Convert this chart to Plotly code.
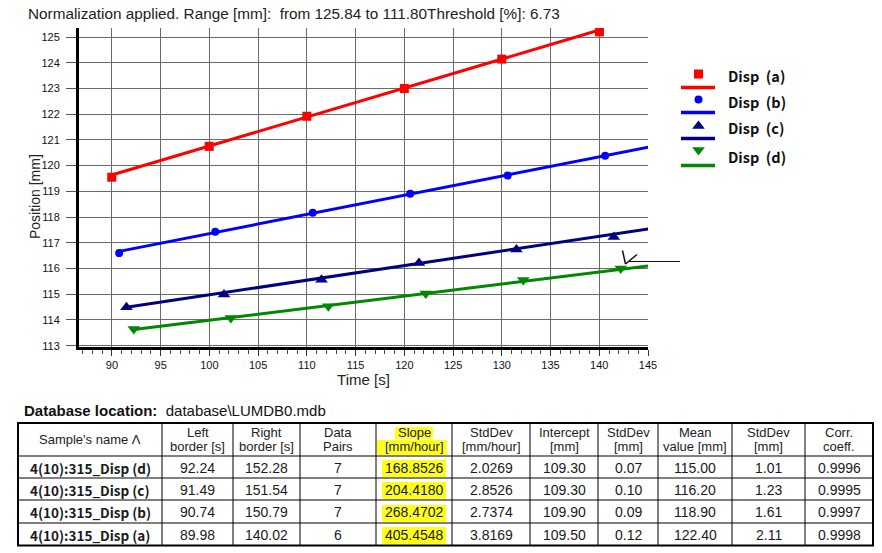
import plotly.graph_objects as go

W, H = 882, 553

# ---------------- data ----------------
series_labels = ["Disp  (a)", "Disp  (b)", "Disp  (c)", "Disp  (d)"]
series_colors = ["#ff0000", "#0000ff", "#000080", "#008800"]
series_symbols = ["square", "circle", "triangle-up", "triangle-down"]
series_sizes = [9, 8, 11, 11]

time_a = [89.98, 99.98, 110.0, 120.0, 130.0, 140.02]
pos_a = [119.55, 120.75, 121.92, 123.0, 124.14, 125.2]
time_b = [90.74, 100.6, 110.6, 120.6, 130.6, 140.6]
pos_b = [116.6, 117.43, 118.17, 118.91, 119.62, 120.38]
time_c = [91.49, 101.5, 111.5, 121.5, 131.5, 141.5]
pos_c = [114.5, 114.99, 115.56, 116.22, 116.74, 117.23]
time_d = [92.24, 102.2, 112.2, 122.2, 132.2, 142.2]
pos_d = [113.65, 114.08, 114.53, 115.03, 115.55, 116.0]

# table (rows: d, c, b, a)
sample_names = ["4(10):315_Disp (d)", "4(10):315_Disp (c)", "4(10):315_Disp (b)", "4(10):315_Disp (a)"]
left_border = [92.24, 91.49, 90.74, 89.98]
right_border = [152.28, 151.54, 150.79, 140.02]
data_pairs = [7, 7, 7, 6]
slope = [168.8526, 204.4180, 268.4702, 405.4548]
slope_sd = [2.0269, 2.8526, 2.7374, 3.8169]
intercept = [109.30, 109.30, 109.90, 109.50]
intercept_sd = [0.07, 0.10, 0.09, 0.12]
mean_value = [115.00, 116.20, 118.90, 122.40]
mean_sd = [1.01, 1.23, 1.61, 2.11]
corr_coeff = [0.9996, 0.9995, 0.9997, 0.9998]

header_labels = ["Sample's name \u039b", "Left<br>border [s]", "Right<br>border [s]", "Data<br>Pairs",
                 "Slope<br>[mm/hour]", "StdDev<br>[mm/hour]", "Intercept<br>[mm]", "StdDev<br>[mm]",
                 "Mean<br>value [mm]", "StdDev<br>[mm]", "Corr.<br>coeff."]

title_text = "Normalization applied. Range [mm]:  from 125.84 to 111.80Threshold [%]: 6.73"

# ---------------- figure ----------------
def px(x):
    return x / W

def py(y):
    return 1 - y / H

fig = go.Figure()

times = [time_a, time_b, time_c, time_d]
poss = [pos_a, pos_b, pos_c, pos_d]
row_of_series = [3, 2, 1, 0]  # table row for a, b, c, d

for i in range(4):
    r = row_of_series[i]
    k = slope[r] / 3600.0
    lx = [left_border[r], right_border[r]]
    ly = [intercept[r] + k * t for t in lx]
    fig.add_trace(go.Scatter(x=lx, y=ly, mode="lines",
                             line=dict(color=series_colors[i], width=3),
                             hoverinfo="skip", showlegend=False))
    fig.add_trace(go.Scatter(x=times[i], y=poss[i], mode="markers",
                             marker=dict(symbol=series_symbols[i], size=series_sizes[i],
                                         color=series_colors[i], line=dict(width=0)),
                             name=series_labels[i], showlegend=False))

FONT = "Liberation Sans, Arial, sans-serif"
KFONT = "Noto Sans CJK KR, Malgun Gothic, sans-serif"

fig.update_layout(
    width=W, height=H,
    margin=dict(l=0, r=0, t=0, b=0),
    paper_bgcolor="white", plot_bgcolor="rgba(0,0,0,0)",
    showlegend=False,
    font=dict(family=FONT, color="#111"),
    xaxis=dict(domain=[px(79), px(648)], range=[86.62, 145], anchor="y",
               dtick=5, tick0=0, showgrid=True, gridcolor="#6a6a6a", gridwidth=1,
               showline=True, linecolor="black", linewidth=3,
               ticks="outside", ticklen=6, tickcolor="#333", tickwidth=1,
               minor=dict(dtick=1, ticks="outside", ticklen=4, tickcolor="#444", showgrid=False),
               tickfont=dict(size=11, color="#111", family=FONT),
               zeroline=False, automargin=False,
               title=dict(text="Time [s]", font=dict(size=15, color="#222", family=FONT), standoff=3)),
    yaxis=dict(domain=[py(347), py(28)], range=[112.95, 125.35], anchor="x",
               dtick=1, tick0=0, showgrid=True, gridcolor="#6a6a6a", gridwidth=1,
               showline=True, linecolor="black", linewidth=3,
               ticks="outside", ticklen=10, tickcolor="#555", tickwidth=1,
               ticklabelstandoff=4,
               tickfont=dict(size=11, color="#111", family=FONT),
               zeroline=False, automargin=False),
    xaxis2=dict(domain=[0, 1], range=[0, W], anchor="y2", visible=False, fixedrange=True),
    yaxis2=dict(domain=[0, 1], range=[H, 0], anchor="x2", visible=False, fixedrange=True),
)

# y-axis title
fig.add_annotation(x=35, y=197, xref="x2", yref="y2", text="Position [mm]", textangle=-90,
                   showarrow=False, xanchor="center", yanchor="middle",
                   font=dict(family=FONT, size=14, color="#222"))

# ---------- custom legend (marker above line) ----------
leg_marker_y = [74, 99.5, 126, 150]
leg_line_y = [87.5, 112.5, 138.5, 165.5]
leg_text_y = [75, 101.5, 127.5, 156]
for i in range(4):
    fig.add_trace(go.Scatter(x=[698.5], y=[leg_marker_y[i]], xaxis="x2", yaxis="y2", mode="markers",
                             marker=dict(symbol=series_symbols[i], size=series_sizes[i],
                                         color=series_colors[i], line=dict(width=0)),
                             hoverinfo="skip", showlegend=False))
    fig.add_shape(type="line", xref="x2", yref="y2", x0=681, x1=715,
                  y0=leg_line_y[i], y1=leg_line_y[i],
                  line=dict(color=series_colors[i], width=3.5))
    fig.add_annotation(x=726, y=leg_text_y[i], xref="x2", yref="y2", text="<b>" + series_labels[i] + "</b>",
                       showarrow=False, xanchor="left", yanchor="middle",
                       font=dict(family=KFONT, size=14.5, color="#111"))

# ---------- cursor marker near (d) ----------
fig.add_shape(type="line", xref="x2", yref="y2", x0=622.5, y0=250.5, x1=625.5, y1=264,
              line=dict(color="#111", width=1.5))
fig.add_shape(type="line", xref="x2", yref="y2", x0=637, y0=254.5, x1=625.5, y1=264,
              line=dict(color="#111", width=1.5))
fig.add_shape(type="line", xref="x2", yref="y2", x0=629, y0=261.5, x1=680, y1=261.5,
              line=dict(color="#111", width=1.2))

# ---------- title ----------
fig.add_annotation(x=26, y=13, xref="x2", yref="y2", text=title_text,
                   showarrow=False, xanchor="left", yanchor="middle",
                   font=dict(family=FONT, size=15.3, color="#222"))

# ---------- database location ----------
fig.add_annotation(x=22, y=410, xref="x2", yref="y2",
                   text="<b>Database location:</b>  database\\LUMDB0.mdb",
                   showarrow=False, xanchor="left", yanchor="middle",
                   font=dict(family=FONT, size=15, color="#111"))

# ---------- yellow highlights (Slope column) ----------
hl = [(395, 427, 433, 439), (377, 440, 447, 455),
      (382, 460, 446, 477), (382, 482, 446, 499), (382, 505, 446, 522), (382, 527, 446, 544)]
for (x0, y0, x1, y1) in hl:
    fig.add_shape(type="rect", xref="x2", yref="y2", x0=x0, y0=y0, x1=x1, y1=y1,
                  fillcolor="#ffff1a", line=dict(width=0), layer="below")

# ---------- table (drawn with lines + text) ----------
col_edges = [18, 162, 233, 300, 376, 452, 530, 598, 658, 732, 805, 873]
row_edges = [423, 456, 478, 500, 523, 545.5]

cell_values = [
    ["<b>" + s + "</b>" for s in sample_names],
    ["%.2f" % v for v in left_border],
    ["%.2f" % v for v in right_border],
    [str(v) for v in data_pairs],
    ["%.4f" % v for v in slope],
    ["%.4f" % v for v in slope_sd],
    ["%.2f" % v for v in intercept],
    ["%.2f" % v for v in intercept_sd],
    ["%.2f" % v for v in mean_value],
    ["%.2f" % v for v in mean_sd],
    ["%.4f" % v for v in corr_coeff],
]

for xe in col_edges[1:-1]:
    fig.add_shape(type="line", xref="x2", yref="y2", x0=xe, x1=xe, y0=row_edges[0], y1=row_edges[-1],
                  line=dict(color="black", width=1))
for ye in row_edges[1:-1]:
    fig.add_shape(type="line", xref="x2", yref="y2", x0=col_edges[0], x1=col_edges[-1], y0=ye, y1=ye,
                  line=dict(color="black", width=1))
fig.add_shape(type="rect", xref="x2", yref="y2", x0=col_edges[0], y0=row_edges[0],
              x1=col_edges[-1], y1=row_edges[-1],
              line=dict(color="black", width=2), fillcolor="rgba(0,0,0,0)")

hdr_mid = (row_edges[0] + row_edges[1]) / 2
for c, lab in enumerate(header_labels):
    cx = (col_edges[c] + col_edges[c + 1]) / 2
    parts = lab.split("<br>")
    if len(parts) == 1:
        ys = [hdr_mid]
    else:
        ys = [hdr_mid - 7, hdr_mid + 7]
    for part, yy in zip(parts, ys):
        fig.add_annotation(x=cx, y=yy, xref="x2", yref="y2", text=part, showarrow=False,
                           xanchor="center", yanchor="middle",
                           font=dict(family=FONT, size=13, color="#222"))

for c, col in enumerate(cell_values):
    cx = (col_edges[c] + col_edges[c + 1]) / 2
    for r, val in enumerate(col):
        cy = (row_edges[r + 1] + row_edges[r + 2]) / 2 + 0.5
        fam = KFONT if c == 0 else FONT
        fig.add_annotation(x=cx, y=cy, xref="x2", yref="y2", text=val, showarrow=False,
                           xanchor="center", yanchor="middle",
                           font=dict(family=fam, size=13.5 if c == 0 else 14, color="#1a1a1a"))

fig.write_html("out.html", config={"displayModeBar": False},
               post_script="document.body.style.margin='0';document.body.style.overflow='hidden';")
